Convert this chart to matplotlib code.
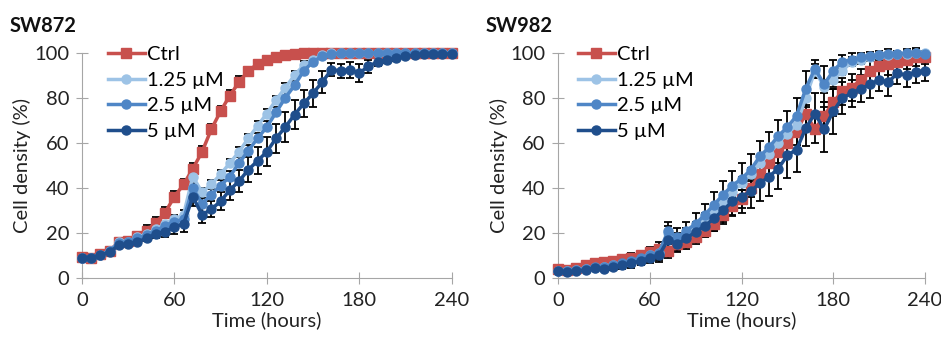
"""Courbes de croissance SW872 / SW982 (densité cellulaire vs temps)."""
import numpy as np
import matplotlib
matplotlib.use("Agg")
import matplotlib.pyplot as plt

plt.rcParams["font.family"] = ["Lato", "DejaVu Sans"]

time_h = np.arange(0, 241, 6)
labels = ["Ctrl", "1.25 \u00b5M", "2.5 \u00b5M", "5 \u00b5M"]

# SW872
sw872_ctrl = [9.2, 9, 10.5, 12, 16, 16.5, 18.5, 21, 24.5, 29, 36, 41.5, 48.5, 56, 66, 74,
              81, 87, 92, 95, 97, 98, 99, 99.5, 99.7, 100, 100, 100, 100, 100, 100, 100,
              100, 100, 100, 100, 100, 100, 100, 100, 100]
sw872_125 = [9, 9, 10, 12, 16, 16, 18, 19.5, 21.5, 24, 26, 28, 45, 38, 41.5, 46, 51, 56,
             62, 67.5, 73, 79, 84.5, 90, 94.5, 97, 99, 100, 100, 100, 100, 100, 100, 100,
             100, 100, 100, 100, 100, 100, 100]
sw872_25 = [9, 9, 10, 12, 15.5, 16, 17.5, 19, 21, 23, 25, 26, 40, 33, 37, 41, 45, 51, 56.5,
            62, 67, 73.5, 80, 85.5, 92, 96, 98.5, 99.5, 100, 100, 100, 100, 100, 100, 100,
            100, 100, 100, 100, 100, 100]
sw872_5 = [9, 9, 10, 11.5, 14.5, 15, 16, 17.5, 19.5, 20.5, 22.5, 24, 36, 28, 30.5, 34, 39,
           43, 48, 52, 56, 62, 67, 72.5, 77.5, 82, 87, 92.5, 92, 92.5, 91, 94, 96, 97, 97.5,
           98.5, 99, 99.5, 99.5, 99.5, 99.5]
sw872_ctrl_err = [1, 1, 1, 1, 1, 1, 1, 2.5, 2.5, 2.5, 2.5, 2.5, 2.5, 2.5, 2.5, 2.5, 2.5,
                  2.5, 1.5, 1.5, 1.5, 0.5, 0.5, 0.5, 0.5, 0.5, 0.5, 0.5, 0.5, 0.5, 0.5, 0.5,
                  0.5, 0.5, 0.5, 0.5, 0.5, 0.5, 0.5, 0.5, 0.5]
sw872_125_err = [0.5, 0.5, 0.5, 0.5, 0.5, 0.5, 0.5, 1, 1, 1, 2, 2, 2, 2, 2, 2, 2, 2, 2, 2, 2,
                 2, 2, 2, 2, 1, 1, 0.5, 0.5, 0.5, 0.5, 0.5, 0.5, 0.5, 0.5, 0.5, 0.5, 0.5, 0.5,
                 0.5, 0.5]
sw872_25_err = [0.5, 0.5, 0.5, 0.5, 0.5, 0.5, 0.5, 1, 1, 1, 2, 2, 2, 2.5, 2.5, 2.5, 2.5,
                2.5, 2.5, 2.5, 2.5, 2.5, 2.5, 2, 2, 1.5, 1, 0.5, 0.5, 0.5, 0.5, 0.5, 0.5, 0.5,
                0.5, 0.5, 0.5, 0.5, 0.5, 0.5, 0.5]
sw872_5_err = [1, 1, 1, 1, 1, 1, 1, 1, 2, 2.5, 3, 3.5, 4, 3.5, 3.5, 4, 4.5, 5, 5.5, 6, 6.5,
               6.5, 6.5, 6.5, 6, 6, 5, 3, 3, 3.5, 4, 3, 2, 1.5, 1, 1, 1, 1, 1, 1, 1]

# SW982
sw982_ctrl = [4, 3.5, 4.5, 5.5, 6.5, 7, 7.5, 8.5, 9, 10, 11.5, 13, 12, 15, 16, 18, 21, 24,
              28, 32, 35, 40, 46, 51, 56, 60, 65, 73, 66, 72, 78, 83, 84.5, 88, 92, 94, 95,
              96, 97, 98, 98]
sw982_125 = [3, 3, 3.5, 4, 4.5, 5, 5.5, 6, 7, 8.5, 10, 11, 20, 17, 19, 22, 26, 30, 34, 38,
             42, 46, 51, 55, 60, 64, 68, 80, 92, 85, 88, 92, 96, 97, 98, 99, 99, 99.5, 99.5,
             100, 100]
sw982_25 = [3, 3, 3.5, 4, 5, 5, 5.5, 6.5, 7.5, 9, 10, 11, 21, 18, 21, 24, 28, 32.5, 37, 41,
            44, 48, 54, 58, 63, 67, 72, 84, 93, 86, 92, 96, 97, 98, 98.5, 99, 99.5, 99.5,
            100, 100, 99.5]
sw982_5 = [3, 2.5, 3, 3.5, 4.5, 4, 5, 5.5, 6.5, 7.5, 9, 10, 17, 15, 17.5, 20.5, 23, 26.5,
           30, 34, 36, 38.5, 42, 45, 48.5, 54.5, 57, 66.5, 73, 66, 74, 80, 82, 84, 86, 88,
           87, 91, 90, 91.5, 92]
sw982_ctrl_err = [1, 1, 1, 1, 1, 1, 1.5, 1.5, 2, 2, 2, 3, 3, 3, 3, 3, 3, 3, 3, 4, 4, 4, 5,
                  5, 5, 5, 6, 6, 6, 6, 6, 6, 6, 5, 5, 5, 5, 4, 4, 4, 3]
sw982_125_err = [0.5, 0.5, 0.5, 0.5, 0.5, 0.5, 0.5, 1, 1, 1, 1.5, 2, 3, 3, 3, 3, 3, 3, 3, 3,
                 3, 3, 3, 3, 3, 3, 3, 3, 3, 3, 3, 2, 2, 2, 1, 1, 1, 1, 1, 1, 1]
sw982_25_err = [1, 1, 1, 1, 1, 1, 1.5, 1.5, 2, 2, 2.5, 3, 4, 4, 4, 5, 5, 5.5, 6, 6.5, 7, 7,
                7, 7, 7, 7, 8, 8, 4, 8, 5, 3, 3, 2, 2, 2, 2, 1.5, 1.5, 1.5, 1.5]
sw982_5_err = [1, 1, 1, 1, 1, 1, 1.5, 1.5, 2, 2, 2.5, 3, 4, 3.5, 4, 4.5, 5, 5.5, 6, 6.5, 7,
               7.5, 8, 8.5, 9, 10, 10, 8, 9, 10, 10, 7, 6, 6, 6, 5, 6, 5, 5, 5, 4.5]

colors = ["#C8504D", "#9DC3E6", "#4F86C6", "#1F4E8C"]
markers = ["s", "o", "o", "o"]

panels = [
    ("SW872", [0.087, 0.19, 0.393, 0.656],
     [sw872_ctrl, sw872_125, sw872_25, sw872_5],
     [sw872_ctrl_err, sw872_125_err, sw872_25_err, sw872_5_err],
     [False, False, False, True], 0.048),
    ("SW982", [0.593, 0.19, 0.390, 0.656],
     [sw982_ctrl, sw982_125, sw982_25, sw982_5],
     [sw982_ctrl_err, sw982_125_err, sw982_25_err, sw982_5_err],
     [True, True, True, True], 0.032),
]

fs = 14.5
fig = plt.figure(figsize=(9.41, 3.43), dpi=100)

for title, rect, series, errors, both, leg_x in panels:
    ax = fig.add_axes(rect)
    for y, e, two, c, m, lab in zip(series, errors, both, colors, markers, labels):
        e = np.asarray(e)
        yerr = e if two else [np.zeros_like(e), e]
        ax.errorbar(time_h, y, yerr=yerr, color=c, marker=m, markersize=6.5,
                    linewidth=2.5, ecolor="black", elinewidth=1.3, capsize=3,
                    capthick=1.3, label=lab, clip_on=False, zorder=3)
    ax.set_xlim(0, 240)
    ax.set_ylim(0, 100)
    ax.set_xticks([0, 60, 120, 180, 240])
    ax.set_yticks([0, 20, 40, 60, 80, 100])
    for side in ["top", "right"]:
        ax.spines[side].set_visible(False)
    for side in ["left", "bottom"]:
        ax.spines[side].set_color("#A6A6A6")
    ax.tick_params(direction="inout", length=8, color="#A6A6A6", labelsize=fs,
                   labelcolor="#222222")
    ax.tick_params(axis="x", pad=6)
    ax.tick_params(axis="y", pad=5)
    ax.set_xlabel("Time (hours)", fontsize=fs, color="#222222", labelpad=2)
    ax.set_ylabel("Cell density (%)", fontsize=fs, color="#222222", labelpad=2)
    handles, labs = ax.get_legend_handles_labels()
    handles = [h[0] for h in handles]
    ax.legend(handles, labs, loc="upper left", bbox_to_anchor=(leg_x, 1.065),
              frameon=False, fontsize=fs, handlelength=1.85, handletextpad=0.1,
              labelspacing=0.42, borderaxespad=0)
    fig.text(rect[0] - 0.077, 0.895, title, fontsize=fs, fontweight="bold",
             color="#111111", va="bottom")

fig.savefig("out.png", dpi=100)
